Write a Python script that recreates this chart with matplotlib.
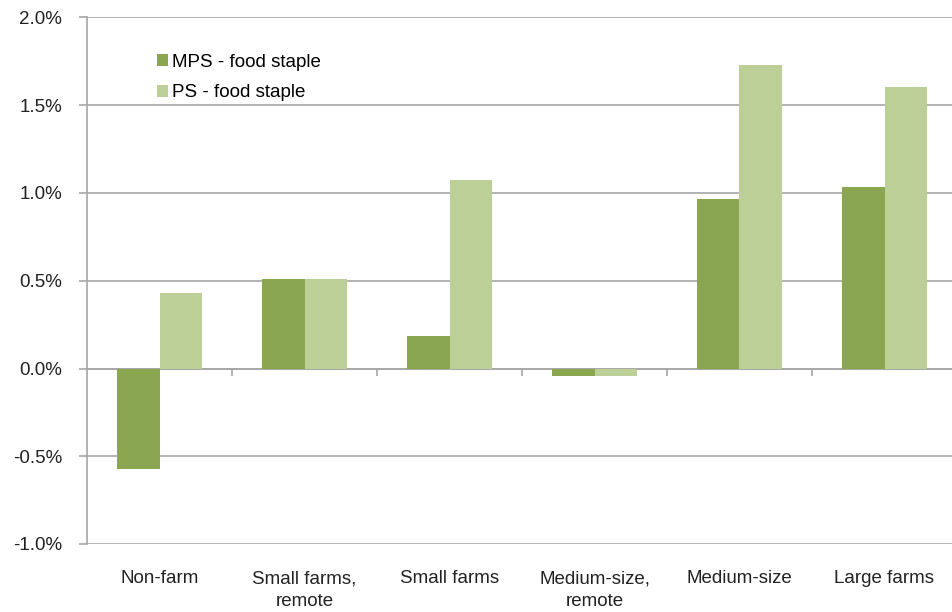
import numpy as np
import matplotlib.pyplot as plt
from matplotlib.ticker import PercentFormatter

categories = ["Non-farm", "Small farms,\nremote", "Small farms",
              "Medium-size,\nremote", "Medium-size", "Large farms"]
mps = [-0.575, 0.51, 0.185, -0.042, 0.965, 1.035]
ps = [0.43, 0.51, 1.075, -0.042, 1.73, 1.605]

c_mps = "#8BA650"
c_ps = "#BBCF97"
grid_c = "#A6A6A6"

plt.rcParams["font.family"] = ["Liberation Sans", "DejaVu Sans"]
plt.rcParams["axes.unicode_minus"] = False

fig = plt.figure(figsize=(9.52, 6.12), dpi=100)
ax = fig.add_axes([87 / 952, 68 / 612, 870 / 952, 526.5 / 612])

x = np.arange(len(categories))
w = 0.29
ax.bar(x - w / 2, mps, w, color=c_mps, label="MPS - food staple", zorder=3)
ax.bar(x + w / 2, ps, w, color=c_ps, label="PS - food staple", zorder=3)

ax.set_xlim(-0.5, len(categories) - 0.5)
ax.set_ylim(-1.0, 2.0)
ax.set_yticks(np.arange(-1.0, 2.01, 0.5))
ax.yaxis.set_major_formatter(PercentFormatter(decimals=1))
ax.grid(axis="y", color=grid_c, lw=1.2, zorder=0)

for s in ["top", "right", "bottom"]:
    ax.spines[s].set_visible(False)
ax.spines["left"].set_color(grid_c)
ax.spines["left"].set_linewidth(1.2)
ax.tick_params(axis="y", length=6, color=grid_c, width=1.2, labelsize=13.5,
               labelcolor="#222222", pad=12)

# category labels along the bottom
ax.set_xticks(x)
ax.set_xticklabels(categories, linespacing=1.4)
ax.tick_params(axis="x", length=0, pad=19, labelsize=13.5, labelcolor="#222222")

# category axis crossing at zero with tick marks between groups
sec = ax.secondary_xaxis(1 / 3)
sec.set_xticks(np.arange(0.5, len(categories) - 0.5, 1))
sec.set_xticklabels([])
sec.tick_params(length=5, color=grid_c, width=1.2)
sec.spines["bottom"].set_color(grid_c)
sec.spines["bottom"].set_linewidth(1.2)

ax.legend(loc="upper left", bbox_to_anchor=(0.072, 0.945), frameon=False,
          fontsize=13.5, handlelength=0.6, handleheight=0.6,
          handletextpad=0.2, labelspacing=0.72, borderaxespad=0)

fig.savefig("out.png", dpi=100)
